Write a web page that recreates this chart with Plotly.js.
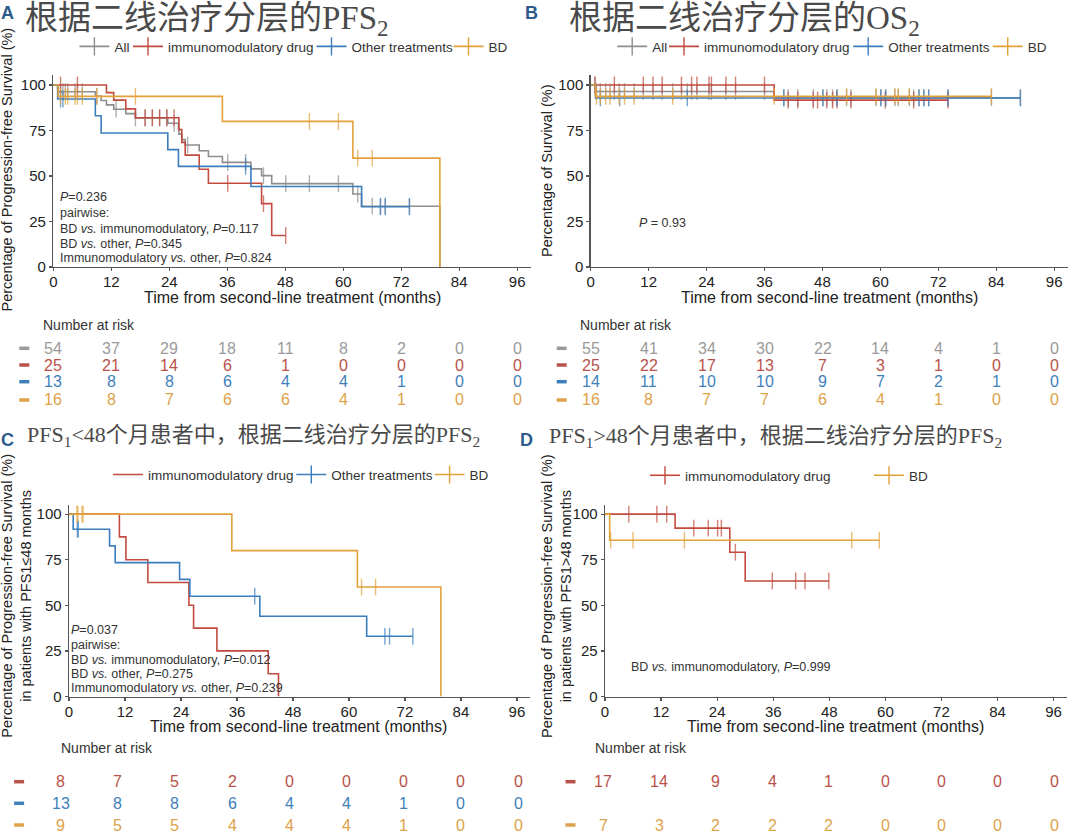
<!DOCTYPE html>
<html><head><meta charset="utf-8">
<script src="https://cdn.plot.ly/plotly-3.0.1.min.js"></script>
<style>html,body{margin:0;padding:0;background:#fff;} #chart{width:1080px;height:838px;}</style>
</head><body><div id="chart"></div>
<script>
// ================= DATA =================
const xTicks = [0, 12, 24, 36, 48, 60, 72, 84, 96];
const yTicks = [0, 25, 50, 75, 100];
const riskTimes = [0, 12, 24, 36, 48, 60, 72, 84, 96];
const groupNames = ['All', 'immunomodulatory drug', 'Other treatments', 'BD'];

// Panel A: PFS2 by second-line treatment
const A_all_evT = [0.9, 1, 8.7, 9.9, 11, 12.5, 15, 17, 23.7, 25.9, 26, 26.6, 27.3, 30.2, 32.1, 35, 40.9, 43.1, 45.2, 62, 63.8, 80];
const A_all_evS = [98.1, 96.3, 93.9, 91.5, 89.1, 86.7, 84.3, 81.9, 79.0, 76.0, 73.0, 70.0, 67.0, 63.9, 60.7, 57.5, 53.9, 50.2, 45.8, 40.1, 33.4, 0];
const A_all_cens = [1.5, 2, 2.5, 3, 4.5, 5, 6, 9, 13, 17, 19, 20.5, 22, 23.5, 25, 27.8, 36.1, 39.8, 43.5, 48.1, 53, 59, 63, 66, 67.7, 68.7, 73.7];
const A_imm_evT = [11, 12.5, 15, 17, 26, 26.6, 27.3, 30.2, 32.1, 43.1, 45.2];
const A_imm_evS = [95.8, 91.7, 86.9, 82.0, 75.5, 68.5, 61.5, 53.7, 46.0, 34.8, 17.3];
const A_imm_cens = [1.5, 5, 19, 20.5, 22, 23.5, 25, 36.1, 43.5, 48.1];
const A_oth_evT = [0.9, 8.7, 9.9, 23.7, 25.9, 40.9, 63.8];
const A_oth_evS = [92.3, 83.1, 73.6, 64.5, 55.3, 44.2, 33.1];
const A_oth_cens = [1.5, 2, 39.8, 67.7, 68.7, 73.7];
const A_bd_evT = [1, 35, 62, 80];
const A_bd_evS = [93.75, 80.0, 59.8, 0];
const A_bd_cens = [1.5, 2.5, 3, 4.5, 5, 6, 9, 17, 53, 59, 63, 66];

// Panel B: OS2 by second-line treatment
const B_all_evT = [1, 38];
const B_all_evS = [96.4, 93.0];
const B_all_cens = [0.9, 1.2, 2, 3.1, 4, 4.9, 5.9, 7, 9, 10.9, 12.9, 14.8, 17, 18.8, 20, 20.9, 22, 24.5, 25, 28, 30, 36, 40, 40.9, 42.9, 46.1, 48.1, 48.9, 50.1, 51, 53, 53.9, 59.1, 60.1, 61.1, 63, 63.7, 66, 66.9, 68, 69, 70, 74, 83, 89];
const B_imm_evT = [38];
const B_imm_evS = [91.7];
const B_imm_cens = [0.9, 4.9, 10.9, 12.9, 14.8, 18.8, 20.9, 22, 24.5, 25, 28, 30, 36, 40.9, 42.9, 46.1, 47, 48.9, 50.1, 51, 53.9, 61, 66.9, 74];
const B_oth_evT = [1];
const B_oth_evS = [92.9];
const B_oth_cens = [2, 6, 20, 40, 48.1, 51, 60.1, 61.1, 68, 69, 70, 74, 89];
const B_bd_evT = [1];
const B_bd_evS = [93.75];
const B_bd_cens = [1.2, 2, 3.1, 4, 5.9, 7, 9, 17, 38, 53, 59.1, 63, 63.7, 66, 83];

// Panel C: PFS1 <= 48 months
const C_imm_evT = [10.8, 12.2, 16.9, 25.7, 26.7, 31.7, 42.7, 44.9];
const C_imm_evS = [87.5, 75, 62.5, 50, 37.5, 25, 12.5, 0];
const C_imm_cens = [];
const C_oth_evT = [0.9, 8.7, 9.9, 23.7, 25.9, 40.9, 63.8];
const C_oth_evS = [91.7, 82.6, 73.4, 64.2, 55.0, 44.0, 33.0];
const C_oth_cens = [1.8, 2.0, 39.8, 67.7, 68.7, 73.7];
const C_bd_evT = [34.9, 61.8, 79.7];
const C_bd_evS = [80, 60, 0];
const C_bd_cens = [1.7, 1.9, 2.8, 3.0, 62.7, 65.7];

// Panel D: PFS1 > 48 months
const D_imm_evT = [15, 26.7, 30];
const D_imm_evS = [92.3, 79.1, 63.3];
const D_imm_cens = [5.1, 11.1, 13.2, 19, 22.1, 24.1, 24.9, 27.9, 35.8, 40.8, 42.8, 47.9];
const D_bd_evT = [1.0];
const D_bd_evS = [85.7];
const D_bd_cens = [1.2, 6, 17, 52.8, 58.7];

// Numbers at risk
const riskA_all = [54, 37, 29, 18, 11, 8, 2, 0, 0];
const riskA_imm = [25, 21, 14, 6, 1, 0, 0, 0, 0];
const riskA_oth = [13, 8, 8, 6, 4, 4, 1, 0, 0];
const riskA_bd = [16, 8, 7, 6, 6, 4, 1, 0, 0];
const riskB_all = [55, 41, 34, 30, 22, 14, 4, 1, 0];
const riskB_imm = [25, 22, 17, 13, 7, 3, 1, 0, 0];
const riskB_oth = [14, 11, 10, 10, 9, 7, 2, 1, 0];
const riskB_bd = [16, 8, 7, 7, 6, 4, 1, 0, 0];
const riskC_imm = [8, 7, 5, 2, 0, 0, 0, 0, 0];
const riskC_oth = [13, 8, 8, 6, 4, 4, 1, 0, 0];
const riskC_bd = [9, 5, 5, 4, 4, 4, 1, 0, 0];
const riskD_imm = [17, 14, 9, 4, 1, 0, 0, 0, 0];
const riskD_bd = [7, 3, 2, 2, 2, 0, 0, 0, 0];

// ================= STYLE / LAYOUT =================
const W = 1080, H = 838;
const COL = {all: '#8e8e8e', imm: '#c24a3e', oth: '#3b7dbd', bd: '#e3a13b'};
const RISKCOL = {all: '#9a9a9a', imm: '#b9524a', oth: '#3f7fba', bd: '#dda24a'};
const FONT = 'Liberation Sans, Arial, sans-serif';
const TFONT = "'Liberation Serif', 'Noto Sans CJK SC', serif";
const px = v => v / W;
const py = v => 1 - v / H;

function kmTrace(evT, evS, cens, color, xa, ya) {
  const pts = [{t: 0, s: 100, c: false}];
  evT.forEach((t, i) => pts.push({t: t, s: evS[i], c: false}));
  cens.forEach(t => pts.push({t: t, c: true}));
  pts.sort((a, b) => (a.t - b.t) || ((a.c ? 1 : 0) - (b.c ? 1 : 0)));
  let cur = 100;
  pts.forEach(p => { if (p.c) p.s = cur; else cur = p.s; });
  return {
    type: 'scatter', mode: cens.length ? 'lines+markers' : 'lines',
    x: pts.map(p => p.t), y: pts.map(p => p.s),
    line: {shape: 'hv', color: color, width: 1.6},
    marker: {symbol: 'line-ns', size: pts.map(p => p.c ? 12 : 0), color: color, line: {width: 1.4, color: color}},
    showlegend: false, xaxis: xa, yaxis: ya, hoverinfo: 'skip'
  };
}
// legend-only entry (no data of its own)
function legendItem(name, color, withTick, xa, ya, legend, lw) {
  return {type: 'scatter', mode: withTick ? 'lines+markers' : 'lines', x: [null], y: [null], name: name,
    line: {color: color, width: 1.6}, marker: {symbol: 'line-ns', size: 13, color: color, line: {width: 1.4, color: color}},
    xaxis: xa, yaxis: ya, legend: legend, legendwidth: lw, showlegend: true, hoverinfo: 'skip'};
}

const traces = [
  kmTrace(A_all_evT, A_all_evS, A_all_cens, COL.all, 'x', 'y'),
  kmTrace(A_imm_evT, A_imm_evS, A_imm_cens, COL.imm, 'x', 'y'),
  kmTrace(A_oth_evT, A_oth_evS, A_oth_cens, COL.oth, 'x', 'y'),
  kmTrace(A_bd_evT, A_bd_evS, A_bd_cens, COL.bd, 'x', 'y'),
  kmTrace(B_all_evT, B_all_evS, B_all_cens, COL.all, 'x2', 'y2'),
  kmTrace(B_imm_evT, B_imm_evS, B_imm_cens, COL.imm, 'x2', 'y2'),
  kmTrace(B_oth_evT, B_oth_evS, B_oth_cens, COL.oth, 'x2', 'y2'),
  kmTrace(B_bd_evT, B_bd_evS, B_bd_cens, COL.bd, 'x2', 'y2'),
  kmTrace(C_imm_evT, C_imm_evS, C_imm_cens, COL.imm, 'x3', 'y3'),
  kmTrace(C_oth_evT, C_oth_evS, C_oth_cens, COL.oth, 'x3', 'y3'),
  kmTrace(C_bd_evT, C_bd_evS, C_bd_cens, COL.bd, 'x3', 'y3'),
  kmTrace(D_imm_evT, D_imm_evS, D_imm_cens, COL.imm, 'x4', 'y4'),
  kmTrace(D_bd_evT, D_bd_evS, D_bd_cens, COL.bd, 'x4', 'y4'),
  legendItem(groupNames[0], COL.all, true, 'x', 'y', 'legend', 8.6),
  legendItem(groupNames[1], COL.imm, true, 'x', 'y', 'legend', 138.5),
  legendItem(groupNames[2], COL.oth, true, 'x', 'y', 'legend', 92),
  legendItem(groupNames[3], COL.bd, true, 'x', 'y', 'legend', 20),
  legendItem(groupNames[0], COL.all, true, 'x2', 'y2', 'legend2', 6.8),
  legendItem(groupNames[1], COL.imm, true, 'x2', 'y2', 'legend2', 139.2),
  legendItem(groupNames[2], COL.oth, true, 'x2', 'y2', 'legend2', 94.5),
  legendItem(groupNames[3], COL.bd, true, 'x2', 'y2', 'legend2', 20),
  legendItem(groupNames[1], COL.imm, C_imm_cens.length > 0, 'x3', 'y3', 'legend3', 138.3),
  legendItem(groupNames[2], COL.oth, true, 'x3', 'y3', 'legend3', 93.3),
  legendItem(groupNames[3], COL.bd, true, 'x3', 'y3', 'legend3', 20),
  legendItem(groupNames[1], COL.imm, true, 'x4', 'y4', 'legend4', 179),
  legendItem(groupNames[3], COL.bd, true, 'x4', 'y4', 'legend4', 20)
];

function xAxis(l, r, anchor) {
  return {domain: [px(l), px(r)], range: [0, 98.8], anchor: anchor, tickvals: xTicks, ticktext: xTicks.map(String),
    showline: true, linecolor: '#555', linewidth: 1.4, ticks: 'outside', ticklen: 3, tickwidth: 1.2, tickcolor: '#555',
    ticklabelstandoff: -2,
    showgrid: false, zeroline: false, fixedrange: true, tickfont: {size: 15, color: '#222', family: FONT}};
}
function yAxis(top, bottom, top100, anchor) {
  return {domain: [py(bottom), py(top)], range: [0, top100], anchor: anchor, tickvals: yTicks, ticktext: yTicks.map(String),
    showline: true, linecolor: '#555', linewidth: 1.4, ticks: 'outside', ticklen: 3, tickwidth: 1.2, tickcolor: '#555',
    showgrid: false, zeroline: false, fixedrange: true, tickfont: {size: 15, color: '#222', family: FONT}};
}
function legendAt(xl, yc) {
  return {x: px(xl), y: py(yc), xanchor: 'left', yanchor: 'middle', orientation: 'h', itemsizing: 'trace',
    bgcolor: 'rgba(0,0,0,0)', borderwidth: 0, font: {size: 13.5, color: '#333', family: FONT}, traceorder: 'normal'};
}

const ann = [];
function text(x, y, t, o) {
  o = o || {};
  ann.push(Object.assign({xref: 'paper', yref: 'paper', x: px(x), y: py(y), text: t, showarrow: false,
    xanchor: 'left', yanchor: 'middle', font: {size: 12.5, color: '#333', family: FONT}}, o));
}

// Panel letters
const LFONT = {size: 18, color: '#2d5b8c', family: FONT, weight: 'bold'};
text(7, 13, '<b>A</b>', {xanchor: 'center', font: LFONT});
text(531, 13, '<b>B</b>', {xanchor: 'center', font: LFONT});
text(7, 440, '<b>C</b>', {xanchor: 'center', font: LFONT});
text(526, 440, '<b>D</b>', {xanchor: 'center', font: LFONT});

// Titles
text(23, 20, '根据二线治疗分层的PFS<sub>2</sub>', {font: {size: 33, color: '#4a4a4a', family: TFONT}});
text(567, 20, '根据二线治疗分层的OS<sub>2</sub>', {font: {size: 33, color: '#4a4a4a', family: TFONT}});
text(25, 436, 'PFS<sub>1</sub>&lt;48个月患者中，根据二线治疗分层的PFS<sub>2</sub>', {font: {size: 22, color: '#4a4a4a', family: TFONT}});
text(547, 437, 'PFS<sub>1</sub>&gt;48个月患者中，根据二线治疗分层的PFS<sub>2</sub>', {font: {size: 22, color: '#4a4a4a', family: TFONT}});

// Axis titles
const XT = 'Time from second-line treatment (months)';
const TF = {size: 16, color: '#222', family: FONT};
text(292.7, 297, XT, {xanchor: 'center', font: TF});
text(829.5, 297, XT, {xanchor: 'center', font: TF});
text(298.5, 726, XT, {xanchor: 'center', font: TF});
text(835, 726, XT, {xanchor: 'center', font: TF});
const YF = {size: 14.5, color: '#222', family: FONT};
text(6.5, 170, 'Percentage of Progression-free Survival (%)', {xanchor: 'center', textangle: -90, font: YF});
text(547, 171, 'Percentage of Survival (%)', {xanchor: 'center', textangle: -90, font: YF});
text(15.7, 596, 'Percentage of Progression-free Survival (%)<br>in patients with PFS1≤48 months', {xanchor: 'center', textangle: -90, font: YF});
text(556, 596, 'Percentage of Progression-free Survival (%)<br>in patients with PFS1>48 months', {xanchor: 'center', textangle: -90, font: YF});

// In-plot statistics
const pA = ['<i>P</i>=0.236', 'pairwise:', 'BD <i>vs.</i> immunomodulatory, <i>P</i>=0.117', 'BD <i>vs.</i> other, <i>P</i>=0.345', 'Immunomodulatory <i>vs.</i> other, <i>P</i>=0.824'];
const pAy = [197, 213, 229, 243.5, 258];
pA.forEach((t, i) => text(57.5, pAy[i], t));
const pC = ['<i>P</i>=0.037', 'pairwise:', 'BD <i>vs.</i> immunomodulatory, <i>P</i>=0.012', 'BD <i>vs.</i> other, <i>P</i>=0.275', 'Immunomodulatory <i>vs.</i> other, <i>P</i>=0.239'];
const pCy = [630, 645.4, 660.2, 674.3, 688];
pC.forEach((t, i) => text(69, pCy[i], t));
text(636.5, 223, '<i>P</i> = 0.93');
text(628.5, 666.6, 'BD <i>vs.</i> immunomodulatory, <i>P</i>=0.999');

// Risk tables
const shapes = [];
const RF = 16;
function riskTable(x0, x96, labelX, labelY, dashX, rows) {
  text(labelX, labelY, 'Number at risk', {font: {size: 14, color: '#333', family: FONT}});
  rows.forEach(r => {
    if (!r.vals) return;
    shapes.push({type: 'line', xref: 'paper', yref: 'paper', x0: px(dashX - 5), x1: px(dashX + 5), y0: py(r.y), y1: py(r.y),
      line: {color: r.col, width: 3.5}});
    r.vals.forEach((v, i) => {
      const xx = x0 + (x96 - x0) * riskTimes[i] / 96;
      text(xx, r.y, String(v), {xanchor: 'center', borderpad: 0, font: {size: RF, color: r.col, family: FONT}});
    });
  });
}
const rowsAB = [348.3, 365, 381.7, 400];
const rowsCD = [781.7, 803.3, 825];
riskTable(53.3, 517.3, 41, 325, 24.3, [
  {vals: riskA_all, col: RISKCOL.all, y: rowsAB[0]}, {vals: riskA_imm, col: RISKCOL.imm, y: rowsAB[1]},
  {vals: riskA_oth, col: RISKCOL.oth, y: rowsAB[2]}, {vals: riskA_bd, col: RISKCOL.bd, y: rowsAB[3]}]);
riskTable(590.7, 1054.3, 578.3, 325, 561.7, [
  {vals: riskB_all, col: RISKCOL.all, y: rowsAB[0]}, {vals: riskB_imm, col: RISKCOL.imm, y: rowsAB[1]},
  {vals: riskB_oth, col: RISKCOL.oth, y: rowsAB[2]}, {vals: riskB_bd, col: RISKCOL.bd, y: rowsAB[3]}]);
riskTable(60.5, 518, 58.6, 748, 19.1, [
  {vals: riskC_imm, col: RISKCOL.imm, y: rowsCD[0]}, {vals: riskC_oth, col: RISKCOL.oth, y: rowsCD[1]},
  {vals: riskC_bd, col: RISKCOL.bd, y: rowsCD[2]}]);
riskTable(603, 1054.3, 592.7, 748, 570.5, [
  {vals: riskD_imm, col: RISKCOL.imm, y: rowsCD[0]}, {vals: null, col: RISKCOL.oth, y: rowsCD[1]},
  {vals: riskD_bd, col: RISKCOL.bd, y: rowsCD[2]}]);

const layout = {
  width: W, height: H, margin: {l: 0, r: 0, t: 0, b: 0}, paper_bgcolor: '#fff', plot_bgcolor: '#fff',
  font: {family: FONT, color: '#222'}, showlegend: true, hovermode: false,
  xaxis: xAxis(53.3, 530.7, 'y'), yaxis: yAxis(75, 267, 105.5, 'x'),
  xaxis2: xAxis(590.7, 1067.7, 'y2'), yaxis2: yAxis(75, 267, 105.5, 'x2'),
  xaxis3: xAxis(69, 530, 'y3'), yaxis3: yAxis(505, 696.5, 105, 'x3'),
  xaxis4: xAxis(605, 1066.7, 'y4'), yaxis4: yAxis(505, 696.5, 105, 'x4'),
  legend: legendAt(74.4, 46.6), legend2: legendAt(612.2, 46.6),
  legend3: legendAt(108, 474.7), legend4: legendAt(645, 475.5),
  annotations: ann, shapes: shapes
};

Plotly.newPlot('chart', traces, layout, {staticPlot: true, displayModeBar: false});
</script>
</body></html>
